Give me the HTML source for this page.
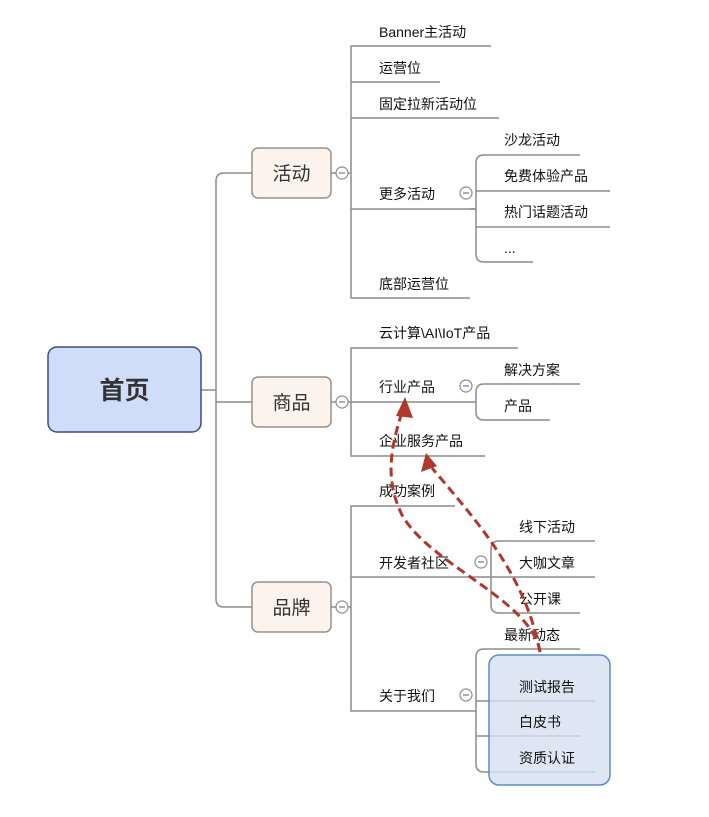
<!DOCTYPE html>
<html><head><meta charset="utf-8"><style>
html,body{margin:0;padding:0;background:#fff;}
svg{display:block;}
text{font-family:"Liberation Sans","Noto Sans CJK SC",sans-serif;font-size:14px;fill:#111;}
</style></head><body>
<svg width="709" height="817" viewBox="0 0 709 817" xmlns="http://www.w3.org/2000/svg">
<g fill="none" stroke="#8c8c8c" stroke-width="1.5">
<!-- root to level1 -->
<path d="M201,390 H216"/>
<path d="M252,173 H224 Q216,173 216,181 V599 Q216,607 224,607 H252"/>
<path d="M216,402 H252"/>
<!-- 活动 -->
<path d="M331,173 H351"/>
<path d="M491,46 H351 V298 H470"/>
<path d="M351,82 H440"/><path d="M351,118 H499"/><path d="M351,209 H475"/>
<path d="M580,155 H484 Q476,155 476,163 V254 Q476,262 484,262 H533"/>
<path d="M476,191 H610"/><path d="M476,227 H610"/><path d="M476,209 H470"/>
<!-- 商品 -->
<path d="M331,402 H351"/>
<path d="M518,348 H351 V456 H485"/>
<path d="M351,402 H476"/>
<path d="M580,384 H484 Q476,384 476,392 V412 Q476,420 484,420 H550"/>
<!-- 品牌 -->
<path d="M331,607 H351"/>
<path d="M455,506 H351 V711 H476"/>
<path d="M351,577 H491"/>
<path d="M595,541 H499 Q491,541 491,549 V605 Q491,613 499,613 H580"/>
<path d="M491,577 H595"/>
<path d="M580,649 H484 Q476,649 476,657 V764 Q476,772 484,772 H595"/>
<path d="M476,701 H595"/><path d="M476,736 H580"/>
</g>
<!-- root -->
<rect x="48" y="347" width="153" height="85" rx="9" fill="#cfddf8" stroke="#3d4d80" stroke-width="1.5"/>
<text x="124.5" y="399" text-anchor="middle" style="font-size:25px;font-weight:bold;fill:#333">首页</text>
<g fill="#fcf3ec" stroke="#9a8f86" stroke-width="1.5">
<rect x="252" y="148" width="79" height="50" rx="6"/>
<rect x="252" y="377" width="79" height="50" rx="6"/>
<rect x="252" y="582" width="79" height="50" rx="6"/>
</g>
<g style="font-size:19px" text-anchor="middle">
<text x="291.5" y="180" style="font-size:19px;fill:#333">活动</text>
<text x="291.5" y="409" style="font-size:19px;fill:#333">商品</text>
<text x="291.5" y="614" style="font-size:19px;fill:#333">品牌</text>
</g>
<!-- selection box -->
<rect x="489" y="655" width="121" height="130" rx="10" fill="#d5e0ef" fill-opacity="0.8" stroke="#5b8ccc" stroke-width="1.5"/>
<!-- collapse circles -->
<g fill="#fff" stroke="#8c8c8c" stroke-width="1.2">
<circle cx="342" cy="173" r="6"/><circle cx="342" cy="402" r="6"/><circle cx="342" cy="607" r="6"/>
<circle cx="466" cy="193" r="6"/><circle cx="466" cy="386" r="6"/><circle cx="481" cy="562" r="6"/><circle cx="466" cy="695" r="6"/>
</g>
<g stroke="#6a7fb8" stroke-width="1.2">
<path d="M339,173h6M339,402h6M339,607h6M463,193h6M463,386h6M478,562h6M463,695h6"/>
</g>
<!-- labels -->
<text x="379" y="37">Banner主活动</text>
<text x="379" y="73">运营位</text>
<text x="379" y="109">固定拉新活动位</text>
<text x="379" y="199">更多活动</text>
<text x="379" y="289">底部运营位</text>
<text x="504" y="145">沙龙活动</text>
<text x="504" y="181">免费体验产品</text>
<text x="504" y="217">热门话题活动</text>
<text x="504" y="253">...</text>
<text x="379" y="338">云计算\AI\IoT产品</text>
<text x="379" y="392">行业产品</text>
<text x="379" y="446">企业服务产品</text>
<text x="504" y="375">解决方案</text>
<text x="504" y="411">产品</text>
<text x="379" y="496">成功案例</text>
<text x="379" y="568">开发者社区</text>
<text x="379" y="701">关于我们</text>
<text x="519" y="532">线下活动</text>
<text x="519" y="568">大咖文章</text>
<text x="519" y="604">公开课</text>
<text x="504" y="640">最新动态</text>
<text x="519" y="692">测试报告</text>
<text x="519" y="727">白皮书</text>
<text x="519" y="763">资质认证</text>
<!-- red dashed arrows -->
<g fill="none" stroke="#b0372b" stroke-width="3" stroke-dasharray="9,5">
<path d="M540,652 C532,600 430,565 402,515 C385,480 390,450 402,412"/>
<path d="M540,652 C525,575 480,525 432,468"/>
</g>
<g fill="#b0372b">
<polygon points="405,397 396,416 413,418"/>
<polygon points="426,453 421,472 437,466"/>
</g>
</svg>
</body></html>
